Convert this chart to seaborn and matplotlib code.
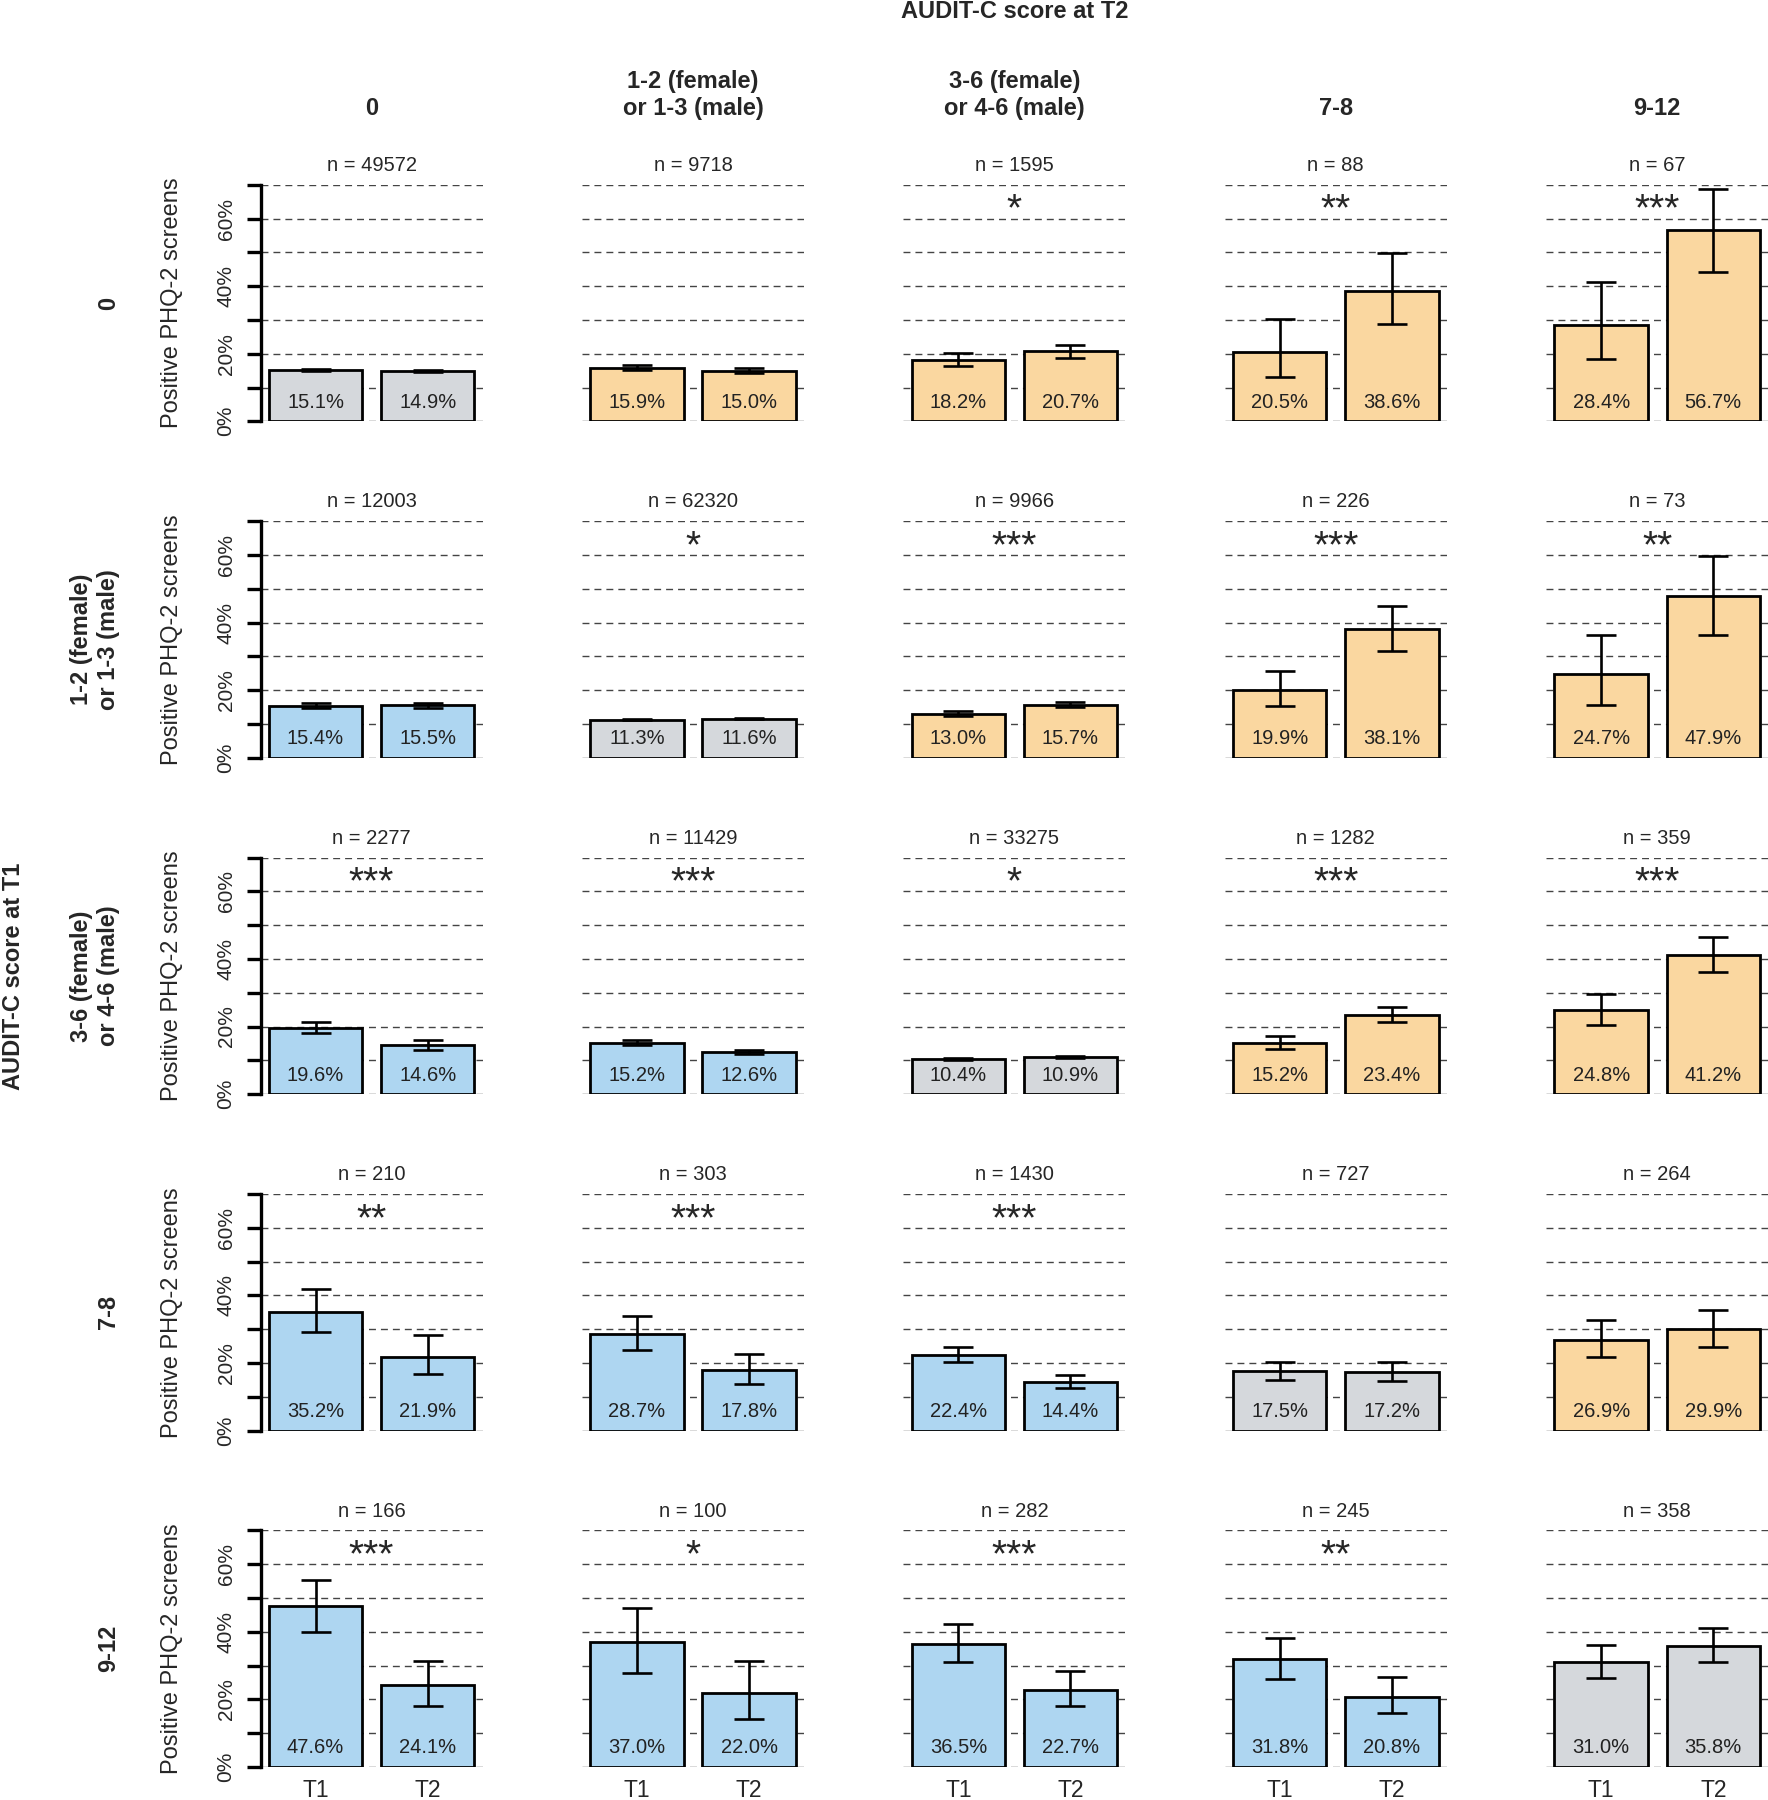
import matplotlib
matplotlib.use("Agg")
import matplotlib.pyplot as plt
import pandas as pd
import seaborn as sns

# AUDIT-C categories (rows = T1, columns = T2)
t1_groups = ["0", "1-2 (female)\nor 1-3 (male)", "3-6 (female)\nor 4-6 (male)", "7-8", "9-12"]
t2_groups = ["0", "1-2 (female)\nor 1-3 (male)", "3-6 (female)\nor 4-6 (male)", "7-8", "9-12"]
time_labels = ["T1", "T2"]

n_values = [
    [49572, 9718, 1595, 88, 67],
    [12003, 62320, 9966, 226, 73],
    [2277, 11429, 33275, 1282, 359],
    [210, 303, 1430, 727, 264],
    [166, 100, 282, 245, 358],
]

# % positive PHQ-2 screens
pct_t1 = [
    [15.1, 15.9, 18.2, 20.5, 28.4],
    [15.4, 11.3, 13.0, 19.9, 24.7],
    [19.6, 15.2, 10.4, 15.2, 24.8],
    [35.2, 28.7, 22.4, 17.5, 26.9],
    [47.6, 37.0, 36.5, 31.8, 31.0],
]
pct_t2 = [
    [14.9, 15.0, 20.7, 38.6, 56.7],
    [15.5, 11.6, 15.7, 38.1, 47.9],
    [14.6, 12.6, 10.9, 23.4, 41.2],
    [21.9, 17.8, 14.4, 17.2, 29.9],
    [24.1, 22.0, 22.7, 20.8, 35.8],
]

# confidence intervals (lower, upper)
ci_t1 = [
    [(14.8, 15.4), (15.2, 16.6), (16.3, 20.1), (13.0, 30.4), (18.4, 41.1)],
    [(14.7, 16.1), (11.05, 11.55), (12.3, 13.7), (15.3, 25.8), (15.6, 36.4)],
    [(18.0, 21.3), (14.5, 15.9), (10.1, 10.7), (13.3, 17.3), (20.6, 29.5)],
    [(29.1, 42.0), (23.7, 34.0), (20.3, 24.7), (14.8, 20.4), (21.7, 32.6)],
    [(40.0, 55.3), (27.7, 47.1), (31.0, 42.4), (26.0, 38.1), (26.3, 36.2)],
]
ci_t2 = [
    [(14.6, 15.2), (14.3, 15.7), (18.7, 22.7), (28.7, 49.7), (44.2, 68.8)],
    [(14.8, 16.2), (11.35, 11.85), (15.0, 16.4), (31.6, 44.9), (36.4, 59.8)],
    [(13.2, 16.1), (12.0, 13.2), (10.6, 11.2), (21.2, 25.8), (36.1, 46.4)],
    [(16.6, 28.3), (13.7, 22.7), (12.6, 16.4), (14.6, 20.2), (24.6, 35.6)],
    [(17.9, 31.3), (14.3, 31.4), (18.0, 28.3), (16.1, 26.5), (31.0, 41.1)],
]

stars = [
    ["", "", "*", "**", "***"],
    ["", "*", "***", "***", "**"],
    ["***", "***", "*", "***", "***"],
    ["**", "***", "***", "", ""],
    ["***", "*", "***", "**", ""],
]

grid_levels = [0, 10, 20, 30, 40, 50, 60, 70]
tick_text = ["0%", "", "20%", "", "40%", "", "60%", ""]

colors = {"same": "#D5D8DC", "up": "#FAD7A0", "down": "#AED6F1"}

sns.set_theme(style="white")
plt.rcParams["font.family"] = ["Liberation Sans", "DejaVu Sans"]

W, H = 1768, 1800
fig = plt.figure(figsize=(W / 100, H / 100), dpi=100)

ax_w, ax_h = 222, 236.5
x0, dx = 260.6, 321.4
y0, dy = 184.8, 336.4

for i in range(5):
    top = y0 + dy * i
    for j in range(5):
        left = x0 + dx * j
        ax = fig.add_axes([left / W, 1 - (top + ax_h) / H, ax_w / W, ax_h / H])

        df = pd.DataFrame({"time": time_labels,
                           "pct": [pct_t1[i][j], pct_t2[i][j]]})
        key = "same" if i == j else ("up" if j > i else "down")

        for g in grid_levels:
            ax.axhline(g, color="#444444", lw=1.0, ls=(0, (5, 3.6)), zorder=0)

        sns.barplot(data=df, x="time", y="pct", color=colors[key], saturation=1,
                    width=1 / 1.2, edgecolor="black", linewidth=2.0,
                    errorbar=None, ax=ax, zorder=2)

        lo = [pct_t1[i][j] - ci_t1[i][j][0], pct_t2[i][j] - ci_t2[i][j][0]]
        hi = [ci_t1[i][j][1] - pct_t1[i][j], ci_t2[i][j][1] - pct_t2[i][j]]
        ax.errorbar([0, 1], df["pct"], yerr=[lo, hi], fmt="none", ecolor="black",
                    elinewidth=1.9, capsize=11, capthick=1.9, zorder=3)

        for k, v in enumerate(df["pct"]):
            ax.text(k, 5.6, f"{v:.1f}%", ha="center", va="center", fontsize=14.5,
                    color="#222222", zorder=4)

        ax.text(0.5, 1.082, f"n = {n_values[i][j]}", transform=ax.transAxes,
                ha="center", va="center", fontsize=14.5)
        if stars[i][j]:
            ax.text(0.5, 0.848, stars[i][j], transform=ax.transAxes,
                    ha="center", va="baseline", fontsize=28)

        ax.set_xlim(-0.49, 1.49)
        ax.set_ylim(0, 70)
        ax.set_xlabel("")
        ax.set_ylabel("")
        for s in ["top", "right", "bottom"]:
            ax.spines[s].set_visible(False)

        if j == 0:
            ax.spines["left"].set_linewidth(2.4)
            ax.spines["left"].set_color("black")
            ax.set_yticks(grid_levels)
            ax.set_yticklabels(tick_text, rotation=90, va="center", fontsize=15)
            ax.tick_params(axis="y", left=True, length=10, width=2.4, pad=8,
                           color="black")
        else:
            ax.spines["left"].set_visible(False)
            ax.set_yticks([])

        if i == 4:
            ax.tick_params(axis="x", bottom=False, labelsize=16.5, pad=3)
        else:
            ax.set_xticks([])

    # row labels
    yc = 1 - (top + ax_h / 2) / H
    fig.text(120 / W, yc, t1_groups[i], rotation=90, ha="right", va="center",
             fontsize=17, fontweight="bold", multialignment="center")
    fig.text(172 / W, yc, "Positive PHQ-2 screens", rotation=90, ha="center",
             va="center", fontsize=17)

for j in range(5):
    xc = (x0 + dx * j + ax_w / 2) / W
    fig.text(xc, 1 - 120 / H, t2_groups[j], ha="center", va="bottom",
             fontsize=17, fontweight="bold", multialignment="center")

grid_mid_x = (x0 + (x0 + dx * 4 + ax_w)) / 2 / W
grid_mid_y = 1 - (y0 + (y0 + dy * 4 + ax_h)) / 2 / H
fig.text(grid_mid_x, 1 - 12 / H, "AUDIT-C score at T2", ha="center", va="center",
         fontsize=17, fontweight="bold")
fig.text(14 / W, grid_mid_y, "AUDIT-C score at T1", rotation=90, ha="center",
         va="center", fontsize=17, fontweight="bold")

fig.savefig("out.png", dpi=100)
